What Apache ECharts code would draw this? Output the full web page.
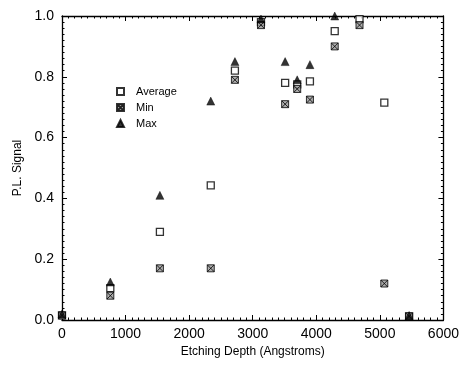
<!DOCTYPE html>
<html><head><meta charset="utf-8">
<script src="https://cdn.jsdelivr.net/npm/echarts@6/dist/echarts.min.js"></script>
<style>html,body{margin:0;padding:0;background:#fff}#c{width:462px;height:372px}</style>
</head><body><div id="c"></div>
<script>
const depth   = [0,    760,   1540, 2340, 2720, 3130, 3510, 3700, 3900, 4290, 4680, 5070, 5460];
const average = [0.015,0.105, 0.29, 0.443,0.82, 0.98, 0.78, 0.775,0.785,0.95, 0.99, 0.715,0.012];
const minimum = [0.015,0.08,  0.17, 0.17, 0.79, 0.97, 0.71, 0.76, 0.725,0.90, 0.97, 0.12, 0.012];
const maximum = [0.02, 0.125, 0.41, 0.72, 0.85, 0.99, 0.85, 0.79, 0.84, 1.0,  1.015,null, 0.015];
const xTicks = [0,1000,2000,3000,4000,5000,6000];
const yTicks = [0,0.2,0.4,0.6,0.8,1.0];

const pair = (xs, ys) => xs.map((x,i)=> ys[i]==null ? null : [x, ys[i]]).filter(p=>p);
const crossSq = 'path://M0,0L10,0L10,10L0,10Z M0,0L10,10 M10,0L0,10';
const font = 'Liberation Sans, Arial, sans-serif';

const axisCommon = {
  axisLine:{show:true,onZero:false,lineStyle:{color:'#000',width:1.3}},
  axisTick:{show:true,inside:true,length:5,lineStyle:{color:'#000'}},
  minorTick:{show:true,splitNumber:10,length:2.5,lineStyle:{color:'#000'}},
  splitLine:{show:false}
};

const chart = echarts.init(document.getElementById('c'));
chart.setOption({
  animation:false,
  backgroundColor:'#fff',
  grid:{left:62,right:14,top:16,bottom:52},
  legend:{
    orient:'vertical', left:111, top:81, itemGap:5, itemWidth:7, itemHeight:7,
    textStyle:{fontFamily:font,fontSize:11,color:'#000',padding:[0,0,0,7]},
    data:['Average','Min','Max']
  },
  xAxis:[
    Object.assign({type:'value',min:xTicks[0],max:xTicks[xTicks.length-1],interval:1000,position:'bottom',
      axisLabel:{color:'#000',fontFamily:font,fontSize:14,margin:7,formatter:v=>String(v)},
      name:'Etching Depth (Angstroms)',nameLocation:'middle',nameGap:26,
      nameTextStyle:{color:'#000',fontFamily:font,fontSize:12}},axisCommon),
    Object.assign({type:'value',min:xTicks[0],max:xTicks[xTicks.length-1],interval:1000,position:'top',
      axisLabel:{show:false}},axisCommon)
  ],
  yAxis:[
    Object.assign({type:'value',min:yTicks[0],max:yTicks[yTicks.length-1],interval:0.2,position:'left',
      axisLabel:{color:'#000',fontFamily:font,fontSize:14,margin:8,formatter:v=>v.toFixed(1)},
      name:'P.L. Signal',nameLocation:'middle',nameGap:34,
      nameTextStyle:{color:'#000',fontFamily:font,fontSize:12}},axisCommon),
    Object.assign({type:'value',min:yTicks[0],max:yTicks[yTicks.length-1],interval:0.2,position:'right',
      axisLabel:{show:false}},axisCommon)
  ],
  series:[
    {name:'Average',type:'scatter',data:pair(depth,average),symbol:'rect',symbolSize:7,
     itemStyle:{color:'#fff',borderColor:'#000',borderWidth:1.3}},
    {name:'Min',type:'scatter',data:pair(depth,minimum),symbol:crossSq,symbolSize:7,
     itemStyle:{color:'#999',borderColor:'#000',borderWidth:1}},
    {name:'Max',type:'scatter',data:pair(depth,maximum),symbol:'triangle',symbolSize:8,
     itemStyle:{color:'#000',borderColor:'#000',borderWidth:0.5}}
  ]
});
</script></body></html>
